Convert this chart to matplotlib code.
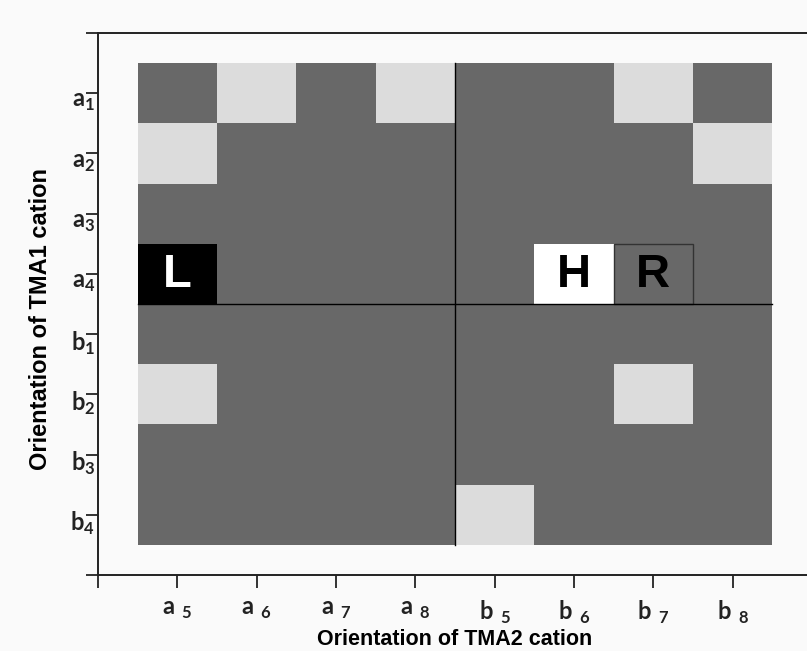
"""Orientation map of TMA1 vs TMA2 cations (categorical heatmap)."""
import matplotlib
matplotlib.use("Agg")
import matplotlib.pyplot as plt
import numpy as np
from matplotlib.colors import ListedColormap, BoundaryNorm
from matplotlib.patches import Rectangle
from matplotlib.transforms import ScaledTranslation

plt.rcParams["font.family"] = ["Liberation Sans", "DejaVu Sans"]
plt.rcParams["mathtext.fontset"] = "custom"
plt.rcParams["mathtext.rm"] = "Lato"
plt.rcParams["mathtext.bf"] = "Lato:bold"

# rows = TMA1 orientation, cols = TMA2 orientation
row_labels = ["a1", "a2", "a3", "a4", "b1", "b2", "b3", "b4"]
col_labels = ["a5", "a6", "a7", "a8", "b5", "b6", "b7", "b8"]

# 0 = dark, 1 = light, 2 = white (H), 3 = black (L)
state = [
    [0, 1, 0, 1, 0, 0, 1, 0],
    [1, 0, 0, 0, 0, 0, 0, 1],
    [0, 0, 0, 0, 0, 0, 0, 0],
    [3, 0, 0, 0, 0, 2, 0, 0],
    [0, 0, 0, 0, 0, 0, 0, 0],
    [1, 0, 0, 0, 0, 0, 1, 0],
    [0, 0, 0, 0, 0, 0, 0, 0],
    [0, 0, 0, 0, 1, 0, 0, 0],
]
state_colors = ["#686868", "#dcdcdc", "#ffffff", "#000000"]

# marked cells: (row, col, text, text colour)
marks = [("a4", "a5", "L", "white"), ("a4", "b6", "H", "black"), ("a4", "b7", "R", "black")]
boxed = [("a4", "b7")]

bg = "#fafafa"
fig = plt.figure(figsize=(8.07, 6.51), dpi=100, facecolor=bg)
ax = fig.add_axes([98 / 807, 1 - 575 / 651, 714 / 807, 542 / 651], facecolor=bg)

n_r, n_c = len(row_labels), len(col_labels)
x_edges = np.arange(n_c + 1) + 0.5
y_edges = np.arange(n_r + 1) + 0.5
cmap = ListedColormap(state_colors)
norm = BoundaryNorm(np.arange(len(state_colors) + 1) - 0.5, cmap.N)
ax.pcolormesh(x_edges, y_edges, np.array(state), cmap=cmap, norm=norm)

ax.set_xlim(0, n_c + 1)
ax.set_ylim(n_r + 1, 0)

# quadrant separators
ax.plot([n_c / 2 + 0.5] * 2, [0.5, n_r + 0.5], color="black", lw=1)
ax.plot([0.5, n_c + 0.5], [n_r / 2 + 0.5] * 2, color="black", lw=1)

for r, c in boxed:
    ri, ci = row_labels.index(r) + 1, col_labels.index(c) + 1
    ax.add_patch(Rectangle((ci - 0.5, ri - 0.5), 1, 1, fill=False, ec="#333333", lw=1))

for r, c, txt, col in marks:
    ri, ci = row_labels.index(r) + 1, col_labels.index(c) + 1
    ax.text(ci, ri + 0.02, txt, color=col, fontsize=34, fontweight="bold",
            ha="center", va="center")

def sub(lbl, gap=False):
    sp = r"\ " if gap else ""
    return r"$\mathbf{%s}%s_{\mathbf{%s}}$" % (lbl[0], sp, lbl[1])

ax.set_xticks(np.arange(0, n_c + 1))
ax.set_xticklabels([""] + [sub(l, True) for l in col_labels], fontsize=17)
ax.set_yticks(np.arange(0, n_r + 2))
ax.set_yticklabels([""] + [sub(l) for l in row_labels] + [""], fontsize=17)

ax.tick_params(axis="x", direction="out", length=9, width=1.3, pad=8, colors="#222222")
ax.tick_params(axis="y", direction="out", length=9, width=1.3, pad=-7, colors="#222222")
shift = ScaledTranslation(0, -6 / 100, fig.dpi_scale_trans)
for lab in ax.get_yticklabels():
    lab.set_transform(lab.get_transform() + shift)

for side in ["left", "bottom", "top"]:
    ax.spines[side].set_linewidth(1.4)
    ax.spines[side].set_color("#222222")
ax.spines["right"].set_visible(False)

ax.set_xlabel("Orientation of TMA2 cation", fontsize=15.5, fontweight="bold", labelpad=2)
ax.set_ylabel("Orientation of TMA1 cation", fontsize=17, fontweight="bold")
ax.yaxis.set_label_coords(-0.065, 0.472)

fig.savefig("out.png", dpi=100, facecolor=bg)
